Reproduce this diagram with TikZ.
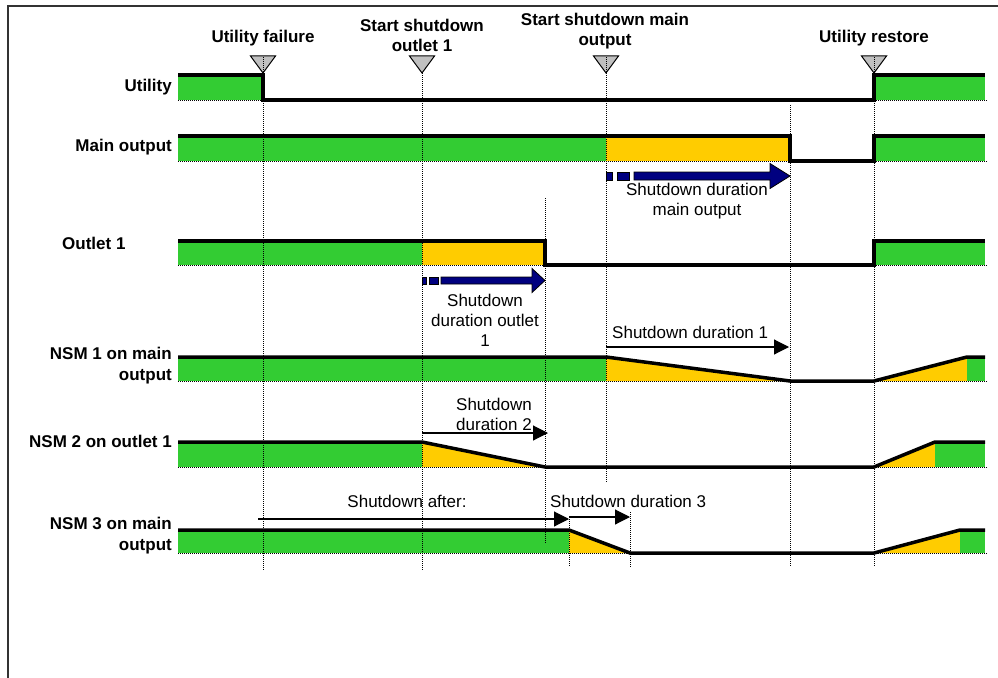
\documentclass[tikz,border=0pt]{standalone}
\usepackage{fontspec}
\setmainfont{Liberation Sans}
\usetikzlibrary{arrows.meta}
\definecolor{sgreen}{HTML}{33CC33}
\definecolor{syellow}{HTML}{FFCC00}
\definecolor{snavy}{HTML}{000080}
\definecolor{sgray}{HTML}{C0C0C0}
\begin{document}
\begin{tikzpicture}[x=1pt,y=-1pt,
  every node/.style={inner sep=0pt, font=\fontsize{17}{20}\selectfont},
  title/.style={font=\fontsize{17}{20}\selectfont\bfseries, align=center},
  rowlbl/.style={font=\fontsize{17}{21}\selectfont\bfseries, align=right, anchor=east},
  note/.style={align=center},
  sig/.style={line width=3.5pt, line join=miter},
  gridline/.style={line width=1pt, dash pattern=on 1pt off 1pt},
  baseline/.style={line width=1pt, dash pattern=on 1pt off 1pt},
  tmark/.style={fill=sgray, draw=black, line width=1pt},
  dur/.style={line width=1.1pt, -{Triangle[length=15pt,width=15pt]}},
  fat/.style={fill=snavy, draw=black, line width=0.8pt}]
\useasboundingbox (0,0) rectangle (998,677);
\clip (0,0) rectangle (998,677);
% frame
\draw[line width=1.5pt, draw=black!80] (8,6) rectangle (1100,800);

% ---------- fills ----------
% Utility
\fill[sgreen] (178,75) rectangle (263,100);
\fill[sgreen] (874,75) rectangle (985,100);
% Main output
\fill[sgreen] (178,136) rectangle (606,161);
\fill[syellow] (606,136) rectangle (790,161);
\fill[sgreen] (874,136) rectangle (985,161);
% Outlet 1
\fill[sgreen] (178,241) rectangle (422,265);
\fill[syellow] (422,241) rectangle (545,265);
\fill[sgreen] (874,241) rectangle (985,265);
% NSM 1
\fill[sgreen] (178,357) rectangle (606,381);
\fill[syellow] (606,357) -- (790,381) -- (606,381) -- cycle;
\fill[syellow] (874,381) -- (967,357) -- (967,381) -- cycle;
\fill[sgreen] (967,357) rectangle (985,381);
% NSM 2
\fill[sgreen] (178,442) rectangle (422,467);
\fill[syellow] (422,442) -- (545,467) -- (422,467) -- cycle;
\fill[syellow] (874,467) -- (935,442) -- (935,467) -- cycle;
\fill[sgreen] (935,442) rectangle (985,467);
% NSM 3
\fill[sgreen] (178,530) rectangle (569,553);
\fill[syellow] (569,530) -- (630,553) -- (569,553) -- cycle;
\fill[syellow] (874,553) -- (960,530) -- (960,553) -- cycle;
\fill[sgreen] (960,530) rectangle (985,553);

% ---------- dotted baselines ----------
\foreach \yy in {100,161,265,381,467,553}
  \draw[baseline] (178,\yy) -- (988,\yy);

% ---------- event markers ----------
\foreach \xx in {263,422,606,874}
  \draw[tmark] (\xx-12.5,56) -- (\xx+12.5,56) -- (\xx,73) -- cycle;

% ---------- vertical dotted lines ----------
\draw[gridline] (263,57) -- (263,570);
\draw[gridline] (422,73) -- (422,570);
\draw[gridline] (606,57) -- (606,483);
\draw[gridline] (874,57) -- (874,567);
\draw[gridline] (545,198) -- (545,543);
\draw[gridline] (790,105) -- (790,567);
\draw[gridline] (569,517) -- (569,567);
\draw[gridline] (630,512) -- (630,567);

% ---------- signal lines ----------
\draw[sig] (178,75) -- (263,75) -- (263,100) -- (874,100) -- (874,75) -- (985,75);
\draw[sig] (178,136) -- (790,136) -- (790,161) -- (874,161) -- (874,136) -- (985,136);
\draw[sig] (178,241) -- (545,241) -- (545,265) -- (874,265) -- (874,241) -- (985,241);
\draw[sig] (178,357) -- (606,357) -- (790,381) -- (874,381) -- (967,357) -- (985,357);
\draw[sig] (178,442) -- (422,442) -- (545,467) -- (874,467) -- (935,442) -- (985,442);
\draw[sig] (178,530) -- (569,530) -- (630,553) -- (874,553) -- (960,530) -- (985,530);

% ---------- fat blue arrows ----------
\draw[fat] (606,172) rectangle (612,180);
\draw[fat] (617,172) rectangle (629,180);
\draw[fat] (634,172) -- (770,172) -- (770,163.5) -- (790,176) -- (770,188.5) -- (770,180) -- (634,180) -- cycle;
\draw[fat] (422,277) rectangle (426,284);
\draw[fat] (429,277) rectangle (438,284);
\draw[fat] (441,277) -- (532,277) -- (532,268.5) -- (545,280.5) -- (532,292.5) -- (532,284) -- (441,284) -- cycle;

% ---------- top labels ----------
\node[title] (tfail) at (263,38) {Utility failure};
\node[title] (tout1) at (422,35) {Start shutdown\\outlet 1};
\node[title] (tmain) at (605,31) {Start shutdown main\\output};
\node[title] (trest) at (874,38) {Utility restore};

% ---------- row labels ----------
\node[rowlbl] (lutil) at (172,87) {Utility};
\node[rowlbl] (lmain) at (172,147) {Main output};
\node[title, anchor=west] (lout1) at (62,243) {Outlet 1};
\node[rowlbl] (lnsm1) at (172,366) {NSM 1 on main\\output};
\node[rowlbl] (lnsm2) at (172,441) {NSM 2 on outlet 1};
\node[rowlbl] (lnsm3) at (172,536) {NSM 3 on main\\output};

% ---------- notes ----------
\node[note] (nmain) at (697,201) {Shutdown duration\\main output};
\node[note] (nout1) at (485,320) {Shutdown\\duration outlet\\1};
\node[anchor=west] (nd1) at (612,332) {Shutdown duration 1};
\node[note] (nd2) at (494,414) {Shutdown\\duration 2};
\node[note] (nafter) at (407,501) {Shutdown after:};
\node[anchor=west] (nd3) at (550,501) {Shutdown duration 3};

% ---------- duration arrows ----------
\coordinate (d1s) at (606,347);
\coordinate (d1e) at (789,347);
\coordinate (d2s) at (422,433);
\coordinate (d2e) at (548,433);
\coordinate (das) at (258,519);
\coordinate (dae) at (569,519);
\coordinate (d3s) at (569,517);
\coordinate (d3e) at (630,517);
\draw[dur] (d1s) -- (d1e);
\draw[dur] (d2s) -- (d2e);
\draw[dur] (das) -- (dae);
\draw[dur] (d3s) -- (d3e);
\end{tikzpicture}
\end{document}
